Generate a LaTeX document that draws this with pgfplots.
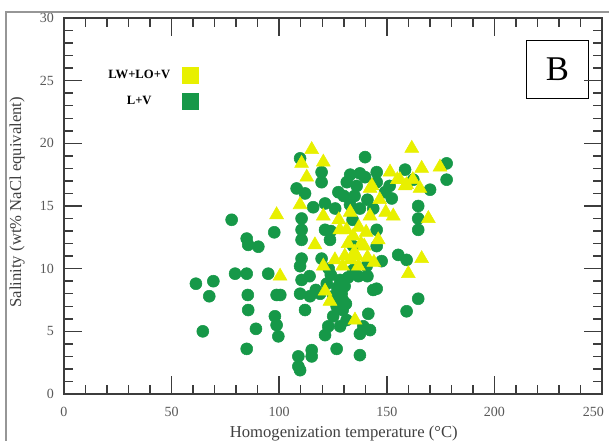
\documentclass[border=0pt]{standalone}
\usepackage{pgfplots}
\pgfplotsset{compat=1.18}
\usepackage{fontspec}
\setmainfont{Liberation Serif}
\definecolor{lvgreen}{RGB}{22,152,72}
\definecolor{lwyellow}{RGB}{232,240,0}
\definecolor{axgray}{RGB}{60,60,60}
\definecolor{framegray}{RGB}{150,150,150}
\begin{document}
\begin{tikzpicture}
\begin{axis}[
  scale only axis, width=403.5pt, height=282pt,
  xmin=0, xmax=250, ymin=0, ymax=30,
  xtick={0,50,100,150,200}, ytick={0,5,10,15,20,25,30},
  extra x ticks={250},
  extra x tick style={xticklabel style={anchor=north east, xshift=5pt}},
  minor x tick num=4, minor y tick num=4,
  major tick length=13.5pt, minor tick length=7pt,
  tick style={axgray, line width=1.0pt},
  tick label style={font=\fontsize{10.5}{12}\selectfont, text=black!65},
  /pgf/number format/assume math mode=true,
  xticklabel style={yshift=-6pt},
  yticklabel style={xshift=-4pt},
  xlabel={Homogenization temperature (°C)},
  ylabel={Salinity (wt\% NaCl equivalent)},
  label style={font=\fontsize{12.5}{14}\selectfont, text=black!75},
  xlabel style={at={(axis description cs:0.52,-0.104)}, anchor=center},
  ylabel style={at={(axis description cs:-0.087,0.51)}, anchor=center},
  legend plot pos=right,
  legend cell align=center,
  legend style={at={(axis cs:62.7,26.1)}, anchor=north east, draw=none, fill=none,
    inner sep=0pt, row sep=7pt, font=\bfseries\fontsize{9.5}{11}\selectfont,
    /tikz/every odd column/.append style={column sep=7pt}},
]
\addplot[only marks, mark=*, mark size=4.5pt, mark options={fill=lvgreen, draw=lvgreen}, forget plot] coordinates {
(61.3,8.8) (64.5,5.0) (67.5,7.8) (69.4,9.0) (77.9,13.9) (79.5,9.6) (84.9,9.6)
(84.9,12.4) (85.6,11.9) (90.3,11.75) (85.4,7.9) (85.6,6.7) (84.9,3.6) (89.2,5.2)
(94.9,9.6) (97.7,12.9) (98.8,7.9) (98.0,6.2) (98.8,5.5) (99.6,4.6) (100.5,7.9)
(108.1,16.4) (109.7,18.8) (110.4,14.0) (110.4,13.1) (110.4,12.3) (110.4,10.8)
(109.7,10.2) (110.4,9.1) (109.7,8.0) (114.3,7.8) (112.0,6.7) (114.1,9.4)
(108.9,3.0) (108.9,2.2) (109.7,1.9) (115.1,3.5) (115.1,3.0) (115.8,14.9)
(119.7,17.7) (119.7,16.9) (121.3,15.2) (121.3,13.1) (123.6,12.3) (124.0,13.0)
(119.7,10.8) (119.0,8.0) (122.1,8.8) (125.1,7.8) (126.7,7.0) (125.1,6.2)
(122.8,5.4) (121.3,4.7) (128.3,9.1) (129.0,8.0) (128.3,5.4) (126.7,3.6)
(127.0,8.5) (131.0,7.2) (124.0,9.5) (132.0,9.3) (117.0,8.3)
(127.5,16.1) (131.4,16.9) (132.9,15.1) (134.1,13.9) (134.4,11.8) (134.4,9.9)
(137.5,17.6) (139.9,17.3) (139.9,18.9) (137.5,14.8) (135.0,15.8) (136.0,16.6)
(130.4,8.6) (129.5,7.5) (129.5,6.7) (131.3,5.9) (136.8,9.4) (137.5,4.8)
(139.1,5.4) (141.4,6.4) (137.5,3.1) (140.6,10.2) (141.0,9.4) (143.7,14.8)
(143.7,8.3) (145.3,17.7) (145.3,16.9) (149.2,16.1) (151.3,16.6) (152.3,15.6)
(145.3,13.1) (145.3,11.8) (147.6,10.6) (145.3,8.4) (142.2,5.1)
(155.3,11.1) (159.2,10.7) (158.5,17.9) (162.3,17.1) (164.6,15.0) (164.6,14.0)
(164.6,13.1) (170.1,16.3) (177.8,18.4) (177.8,17.1) (164.6,7.6) (159.2,6.6)
(126.0,14.8) (130.0,15.8) (133.0,17.5) (141.0,15.5) (112.0,16.0) (123.0,10.0)
};
\addplot[only marks, mark=triangle*, mark size=6pt, mark options={fill=lwyellow, draw=lwyellow}, forget plot] coordinates {
(98.8,14.3) (100.4,9.4) (110.4,18.4) (112.8,17.3) (115.1,19.5) (109.7,15.1)
(116.6,11.9) (120.5,18.5) (120.5,14.2) (121.3,8.2) (123.6,7.4) (120.5,10.2)
(125.9,10.7) (127.7,13.9) (128.2,13.1) (131.3,13.1) (129.5,10.2) (130.5,11.0)
(133.2,10.7) (134.4,12.6) (134.9,11.3) (136.0,11.0) (136.8,10.2) (135.2,5.9)
(138.0,12.0) (139.5,11.8) (140.4,12.9) (141.0,10.9) (142.2,14.2) (142.2,16.4)
(143.1,16.6) (144.0,10.5) (146.7,15.5) (149.5,14.5) (151.5,17.7) (153.0,14.2)
(154.9,17.1) (156.1,17.1) (158.5,16.6) (159.2,16.7) (160.0,9.6) (161.6,19.6)
(162.1,17.1) (165.4,16.4) (166.2,18.0) (166.2,10.8) (169.3,14.0) (174.7,18.1)
(133.0,14.5) (132.0,12.0) (146.0,12.3) (137.0,13.3)
};
\addlegendimage{legend image code/.code={\fill[lwyellow] (0pt,-6pt) rectangle (12pt,6pt);}}
\addlegendentry{LW+LO+V}
\addlegendimage{legend image code/.code={\fill[lvgreen] (0pt,-6pt) rectangle (12pt,6pt);}}
\addlegendentry{L+V}
\node[draw=black, line width=0.8pt, minimum width=47pt, minimum height=43pt, inner sep=0pt,
  font=\fontsize{26}{26}\selectfont, fill=white] at (axis cs:229.3,25.9) {B};
\end{axis}
% tick marks drawn around the axis box (axis box spans 0..403.5pt x 0..282pt)
\foreach \i in {1,...,24} {
  \draw[axgray, line width=1.1pt] (\i*16.14pt,0pt) -- (\i*16.14pt,7pt);
  \draw[axgray, line width=1.1pt] (\i*16.14pt,282pt) -- (\i*16.14pt,275pt);
}
\foreach \i in {5,10,15,20} {
  \draw[axgray, line width=1.1pt] (\i*16.14pt,0pt) -- (\i*16.14pt,13.5pt);
  \draw[axgray, line width=1.1pt] (\i*16.14pt,282pt) -- (\i*16.14pt,268.5pt);
}
\foreach \j in {1,...,29} {
  \draw[axgray, line width=1.1pt] (0pt,\j*9.4pt) -- (7pt,\j*9.4pt);
  \draw[axgray, line width=1.1pt] (403.5pt,\j*9.4pt) -- (396.5pt,\j*9.4pt);
}
\foreach \j in {5,10,15,20,25} {
  \draw[axgray, line width=1.1pt] (0pt,\j*9.4pt) -- (13.5pt,\j*9.4pt);
  \draw[axgray, line width=1.1pt] (403.5pt,\j*9.4pt) -- (390pt,\j*9.4pt);
}
\draw[axgray, line width=1.2pt] (0pt,0pt) rectangle (403.5pt,282pt);
\draw[framegray, line width=2pt] (-43.5pt,-40pt) -- (-43.5pt,286.5pt) -- (470pt,286.5pt);
\pgfresetboundingbox
\useasboundingbox (-48pt,-35.25pt) rectangle (408.75pt,295.5pt);
\end{tikzpicture}
\end{document}
